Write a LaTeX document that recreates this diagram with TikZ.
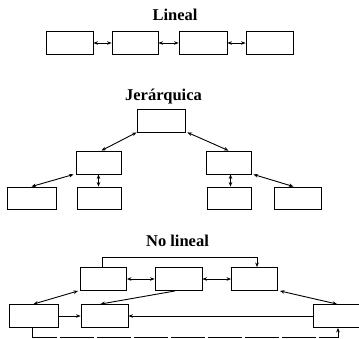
\documentclass[tikz,border=0pt]{standalone}
\usepackage{fontspec}
\setmainfont{Liberation Serif}
\usetikzlibrary{arrows.meta}
\begin{document}
\begin{tikzpicture}[x=1pt,y=-1pt,
  line width=0.9pt,
  >={Stealth[length=4.5pt,width=3.6pt]},
  box/.style={draw,minimum width=#1,minimum height=23pt,inner sep=0pt},
  box/.default=47pt,
  title/.style={font=\bfseries\fontsize{16.5}{18}\selectfont,anchor=base},
  link/.style={<->},
  link1/.style={->},
  ret/.style={dash pattern=on 34pt off 3pt}]
\useasboundingbox (0,0) rectangle (359,338);

% --- Lineal ---
\node[title] (t1) at (175,20) {Lineal};
\node[box] (l1) at (69.5,43) {};
\node[box=46pt] (l2) at (135,43) {};
\node[box=48pt] (l3) at (203,43) {};
\node[box] (l4) at (269.5,43) {};
\draw[link] (l1) -- (l2);
\draw[link] (l2) -- (l3);
\draw[link] (l3) -- (l4);

% --- Jerárquica ---
\node[title] (t2) at (163.5,100) {Jerárquica};
\node[box=48pt] (r) at (161,120.5) {};
\node[box=45pt] (ml) at (98.5,162.5) {};
\node[box=45pt] (mr) at (228.5,162.5) {};
\node[box=49pt,minimum height=22pt] (b1) at (31.5,198) {};
\node[box=44pt,minimum height=22pt] (b2) at (99,198) {};
\node[box=44pt,minimum height=22pt] (b3) at (229,198) {};
\node[box=47pt,minimum height=22pt] (b4) at (297.5,198) {};
\draw[link] (r.south west) -- ([xshift=3pt]ml.north);
\draw[link] ([xshift=2pt]r.south east) -- (mr.north);
\draw[link] ([xshift=-2pt]ml.south west) -- (b1.north);
\draw[link] (ml.south) -- (ml.south |- b2.north);
\draw[link] ([xshift=2pt]mr.south) -- ([xshift=2pt]mr.south |- b3.north);
\draw[link] ([xshift=2pt]mr.south east) -- ([xshift=-4pt]b4.north);

% --- No lineal ---
\node[title] (t3) at (177.5,246) {No lineal};
\node[box=46pt] (a) at (103.5,279) {};
\node[box=47pt] (b) at (178.5,279) {};
\node[box=46pt] (c) at (254.5,279) {};
\node[box=49pt] (d) at (33.5,316) {};
\node[box=47pt] (e) at (104.5,316) {};
\node[box=46pt] (f) at (336,316) {};
\coordinate (up1) at (102,257);
\coordinate (up2) at (257,257);
\draw[link1] ([xshift=-1.5pt]a.north) -- (up1) -- (up2) -- (up2 |- c.north);
\draw[link] (a) -- (b);
\draw[link] (b) -- (c);
\draw[link] ([xshift=-2pt]a.south west) -- (d.north);
\draw[link1] ([xshift=-3.5pt]b.south) -- ([xshift=-4pt]e.north);
\draw[link] ([xshift=2pt]c.south east) -- ([xshift=1pt]f.north);
\draw[link1] (d) -- (e);
\draw[link1] (f) -- (e);
\coordinate (lo1) at (32,337);
\coordinate (lo2) at (338,337);
\draw[link1,ret] (d.south -| lo1) -- (lo1) -- (lo2) -- (lo2 |- f.south);
\end{tikzpicture}
\end{document}
